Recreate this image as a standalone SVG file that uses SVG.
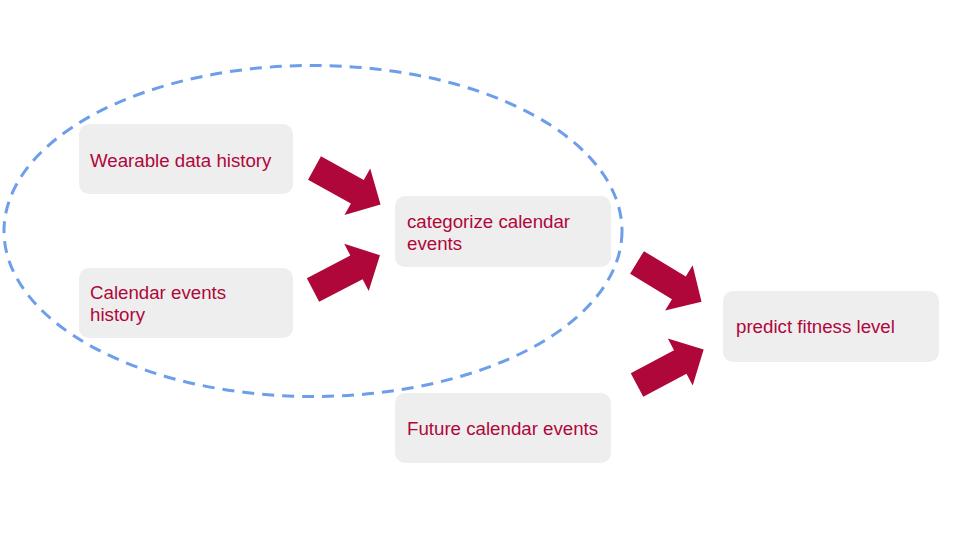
<svg xmlns="http://www.w3.org/2000/svg" xmlns:xlink="http://www.w3.org/1999/xlink" width="960" height="540" viewBox="0 0 960 540">
<style>
.box{fill:#eeeeee;}
.lbl{font-family:"Liberation Sans",Arial,sans-serif;font-size:18.7px;fill:#b0073b;}
.arr{fill:#b0073b;}
.grp{fill:none;stroke:#6d9eeb;stroke-width:3;stroke-dasharray:12 8;}
</style>
<defs>
<path id="blk" d="M0,-13.3 L49,-13.3 L49,-26.5 L75.5,0 L49,26.5 L49,13.3 L0,13.3 Z"/>
</defs>
<rect width="960" height="540" fill="#ffffff"/>
<ellipse class="grp" cx="313" cy="231" rx="309" ry="165.5"/>
<g id="n-wearable">
<rect class="box" x="79" y="124" width="214" height="70" rx="10"/>
<text class="lbl" x="90" y="167">Wearable data history</text>
</g>
<g id="n-calhist">
<rect class="box" x="79" y="268" width="214" height="70" rx="10"/>
<text class="lbl" x="90" y="299">Calendar events</text>
<text class="lbl" x="90" y="321">history</text>
</g>
<g id="n-categorize">
<rect class="box" x="395" y="196" width="216" height="71" rx="10"/>
<text class="lbl" x="407" y="228">categorize calendar</text>
<text class="lbl" x="407" y="250">events</text>
</g>
<g id="n-future">
<rect class="box" x="395" y="393" width="216" height="70" rx="10"/>
<text class="lbl" x="407" y="435">Future calendar events</text>
</g>
<g id="n-predict">
<rect class="box" x="723" y="291" width="216" height="71" rx="10"/>
<text class="lbl" x="736" y="333">predict fitness level</text>
</g>
<g id="connectors">
<use class="arr" xlink:href="#blk" href="#blk" transform="translate(314.5,168) rotate(29)"/>
<use class="arr" xlink:href="#blk" href="#blk" transform="translate(313,290) rotate(-27.5)"/>
<use class="arr" xlink:href="#blk" href="#blk" transform="translate(637,262.5) rotate(31.3)"/>
<use class="arr" xlink:href="#blk" href="#blk" transform="translate(637,385) rotate(-28)"/>
</g>
</svg>
